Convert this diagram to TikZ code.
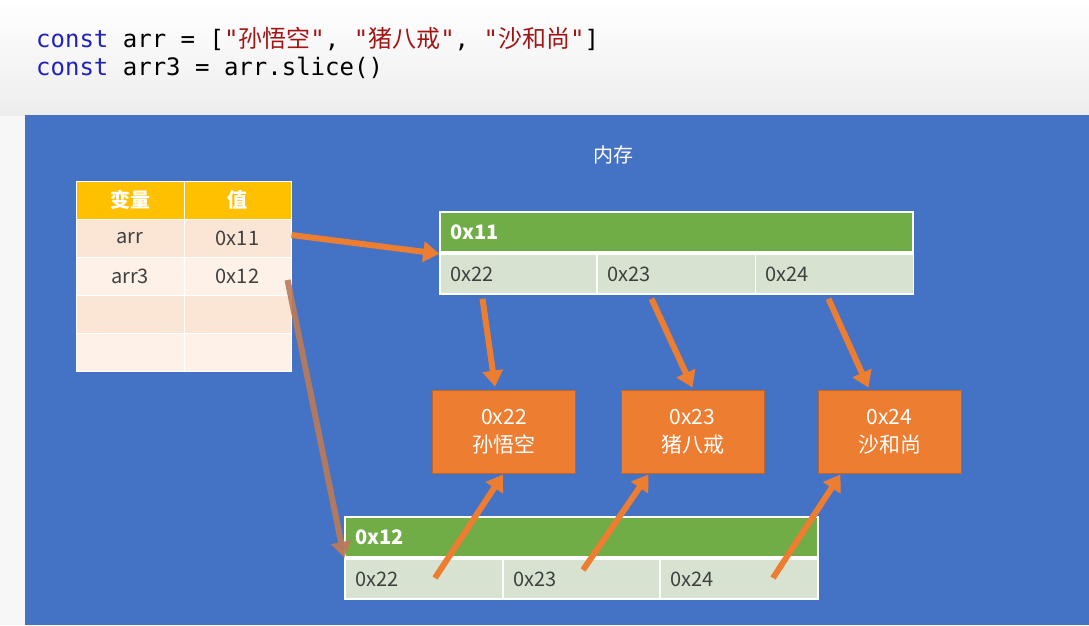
\documentclass[tikz,border=0pt]{standalone}
\usepackage{fontspec}
\setmainfont{Noto Sans CJK SC}
\newfontfamily\cjk{Noto Sans CJK SC}
\newfontfamily\codefont{DejaVu Sans Mono}
\usetikzlibrary{calc,arrows.meta}

\definecolor{slideblue}{HTML}{4472C4}
\definecolor{headgold}{HTML}{FFC000}
\definecolor{rowdark}{HTML}{FBE5D5}
\definecolor{rowlight}{HTML}{FDF1E8}
\definecolor{memgreen}{HTML}{70AD47}
\definecolor{cellgreen}{HTML}{D7E3D0}
\definecolor{valorange}{HTML}{ED7D31}
\definecolor{kwblue}{HTML}{2222B8}
\definecolor{strred}{HTML}{A31515}
\definecolor{textgray}{HTML}{404040}
\definecolor{fadedorange}{HTML}{BC7B58}

\begin{document}
\begin{tikzpicture}[x=1pt,y=-1pt]
    \tikzstyle{tabcell}=[draw=white,line width=1pt,minimum height=38pt,
        inner sep=0pt,text=textgray,font=\fontsize{20}{22}\selectfont]
    \tikzstyle{tabhead}=[tabcell,fill=headgold,text=white,font=\bfseries\fontsize{20}{22}\selectfont]
    \tikzstyle{memhead}=[draw=white,line width=1.5pt,fill=memgreen,minimum height=40pt,
        inner xsep=10pt,inner ysep=0pt,align=left,text=white,font=\bfseries\fontsize{20}{22}\selectfont]
    \tikzstyle{memcell}=[draw=white,line width=1.5pt,fill=cellgreen,minimum height=40pt,
        inner xsep=10pt,inner ysep=0pt,align=left,text=textgray,font=\fontsize{20}{22}\selectfont]
    \tikzstyle{valbox}=[draw=valorange!80!black,line width=0.8pt,fill=valorange,minimum width=143pt,
        minimum height=83pt,align=center,text=white,font=\fontsize{21}{28}\selectfont]
    \tikzstyle{ptr}=[valorange,line width=6pt,-{Triangle[length=16pt,width=20pt]}]
    \useasboundingbox (0,0) rectangle (1089,625);
    % Background
    \fill[gray!6] (0,0) rectangle (1089,625);
    \shade[top color=white,bottom color=gray!14] (0,0) rectangle (1089,115);
    \fill[slideblue] (25,115) rectangle (1089,625);
    % Code
    \node[anchor=base west,inner sep=0pt,font=\codefont\fontsize{24}{28}\selectfont] (code1) at (36,47)
        {\textcolor{kwblue}{const} arr = [\textcolor{strred}{"{\cjk 孙悟空}"}, \textcolor{strred}{"{\cjk 猪八戒}"}, \textcolor{strred}{"{\cjk 沙和尚}"}]};
    \node[anchor=base west,inner sep=0pt,font=\codefont\fontsize{24}{28}\selectfont] (code2) at (36,75)
        {\textcolor{kwblue}{const} arr3 = arr.slice()};
    \node[text=white,font=\fontsize{20}{22}\selectfont] (mem) at (613,155) {内存};
    % Variable table
    \node[tabhead,minimum width=108pt] (h1) at (130,200) {变量};
    \node[tabhead,minimum width=107pt] (h2) at (237.5,200) {值};
    \node[tabcell,fill=rowdark,minimum width=108pt] (t11) at (130,238) {arr};
    \node[tabcell,fill=rowdark,minimum width=107pt] (t12) at (237.5,238) {0x11};
    \node[tabcell,fill=rowlight,minimum width=108pt] (t21) at (130,276) {arr3};
    \node[tabcell,fill=rowlight,minimum width=107pt] (t22) at (237.5,276) {0x12};
    \node[tabcell,fill=rowdark,minimum width=108pt] (t31) at (130,314) {};
    \node[tabcell,fill=rowdark,minimum width=107pt] (t32) at (237.5,314) {};
    \node[tabcell,fill=rowlight,minimum width=108pt] (t41) at (130,352) {};
    \node[tabcell,fill=rowlight,minimum width=107pt] (t42) at (237.5,352) {};
    % Array 0x11
    \node[memhead,text width=453pt] (m11) at (676.5,232) {0x11};
    \node[memcell,text width=137pt] (c11a) at (518.5,274) {0x22};
    \node[memcell,text width=138pt] (c11b) at (676.5,274) {0x23};
    \node[memcell,text width=138pt] (c11c) at (834.5,274) {0x24};
    % Array 0x12
    \node[memhead,text width=453pt] (m12) at (581.5,537) {0x12};
    \node[memcell,text width=138pt] (c12a) at (424,579) {0x22};
    \node[memcell,text width=137pt] (c12b) at (581.5,579) {0x23};
    \node[memcell,text width=138pt] (c12c) at (739,579) {0x24};
    % Values
    \node[valbox] (v22) at (504,431.5) {0x22\\孙悟空};
    \node[valbox] (v23) at (692.5,431.5) {0x23\\猪八戒};
    \node[valbox] (v24) at (889.5,431.5) {0x24\\沙和尚};
    % Pointers
    \draw[ptr] ($(t12.east)+(0,-3)$) -- ($(m11.south west)+(0,1)$);
    \draw[ptr,fadedorange,opacity=0.9] ($(t22.east)+(-4,4)$) -- ($(m12.south west)+(0,0)$);
    \draw[ptr] ($(c11a.south)+(-36,4)$) -- ($(v22.north)+(-9,-3)$);
    \draw[ptr] ($(c11b.south)+(-25,4)$) -- ($(v23.north)+(0,-2)$);
    \draw[ptr] ($(c11c.south)+(-6,4)$) -- ($(v24.north)+(-21,-2)$);
    \draw[ptr] ($(c12a.center)+(11,-1)$) -- ($(v22.south)+(-1,1)$);
    \draw[ptr] ($(c12b.center)+(1.5,-9)$) -- ($(v23.south)+(-44,1)$);
    \draw[ptr] ($(c12c.center)+(34,-1)$) -- ($(v24.south)+(-49,1)$);
\end{tikzpicture}
\end{document}
